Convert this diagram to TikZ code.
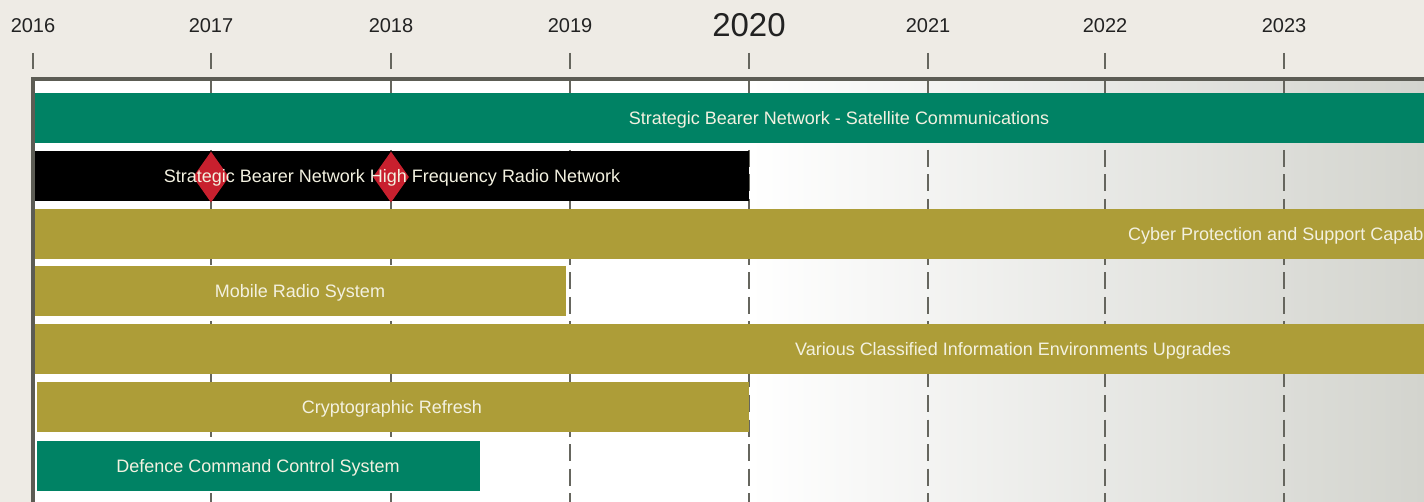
\documentclass[tikz,border=0pt]{standalone}
\usepackage{fontspec}
\setmainfont{Liberation Sans}
\usetikzlibrary{shapes.geometric}
\definecolor{bg}{HTML}{EEEBE5}
\definecolor{framec}{HTML}{5C5C54}
\definecolor{gridc}{HTML}{66665E}
\definecolor{shadeR}{HTML}{D3D4CE}
\definecolor{tealc}{HTML}{008264}
\definecolor{olivec}{HTML}{AD9D38}
\definecolor{redc}{HTML}{C8202E}
\definecolor{labelc}{HTML}{F3F1E0}
\definecolor{yearc}{HTML}{222222}
\tikzset{
  bar/.style={anchor=north west, minimum height=50pt, inner sep=0pt, outer sep=0pt, draw=none},
  barlabel/.style={anchor=base, text=labelc, inner sep=0pt, font=\fontsize{18}{20}\selectfont},
  yearlabel/.style={anchor=base, text=yearc, inner sep=0pt, font=\fontsize{20}{22}\selectfont},
  bigyear/.style={anchor=base, text=yearc, inner sep=0pt, font=\fontsize{33}{36}\selectfont},
  tick/.style={draw=gridc, line width=1.5pt},
  gridline/.style={draw=gridc, line width=1.5pt, dash pattern=on 17pt off 7.5pt, dash phase=4.5pt},
  milestone/.style={diamond, fill=redc, draw=none, inner sep=0pt, minimum width=36pt, minimum height=51pt}
}
\begin{document}
\begin{tikzpicture}[x=1pt,y=-1pt]
\clip (0,0) rectangle (1424,502);
\fill[bg] (0,0) rectangle (1424,502);
\fill[white] (35,81) rectangle (749,502);
\shade[left color=white, right color=shadeR] (749,81) rectangle (1424,502);
% frame
\fill[framec] (31,77) rectangle (1424,81);
\fill[framec] (31,77) rectangle (35,502);
% years
\foreach \yr/\xx in {2016/33,2017/211,2018/391,2019/570,2021/928,2022/1105,2023/1284}{
  \node[yearlabel] (y\yr) at (\xx,33) {\yr};
  \coordinate (t\yr a) at (\xx,53);
  \coordinate (t\yr b) at (\xx,69);
  \draw[tick] (t\yr a) -- (t\yr b);
}
\node[bigyear] (y2020) at (749,37) {2020};
\coordinate (t2020a) at (749,53);
\coordinate (t2020b) at (749,69);
\draw[tick] (t2020a) -- (t2020b);
% grid lines
\foreach \yr/\xx in {2017/211,2018/391,2019/570,2020/749,2021/928,2022/1105,2023/1284}{
  \coordinate (g\yr a) at (\xx,81);
  \coordinate (g\yr b) at (\xx,502);
  \draw[gridline] (g\yr a) -- (g\yr b);
}
% bars
\node[bar, fill=tealc, minimum width=1395pt] (b1) at (35,93) {};
\node[bar, fill=black, minimum width=714pt] (b2) at (35,151) {};
\node[bar, fill=olivec, minimum width=1395pt] (b3) at (35,209) {};
\node[bar, fill=olivec, minimum width=531pt] (b4) at (35,266) {};
\node[bar, fill=olivec, minimum width=1395pt] (b5) at (35,324) {};
\node[bar, fill=olivec, minimum width=712pt] (b6) at (37,382) {};
\node[bar, fill=tealc, minimum width=443pt] (b7) at (37,441) {};
% milestones
\node[milestone] (m1) at (211,177) {};
\node[milestone] (m2) at (391,177) {};
% labels
\node[barlabel] (l1) at (839,124.5) {Strategic Bearer Network - Satellite Communications};
\node[barlabel] (l2) at (392,182.5) {Strategic Bearer Network High Frequency Radio Network};
\node[barlabel, anchor=base west] (l3) at (1128,240.5) {Cyber Protection and Support Capability};
\node[barlabel] (l4) at (300,297.5) {Mobile Radio System};
\node[barlabel] (l5) at (1013,355.5) {Various Classified Information Environments Upgrades};
\node[barlabel] (l6) at (392,413.5) {Cryptographic Refresh};
\node[barlabel] (l7) at (258,472.5) {Defence Command Control System};
\end{tikzpicture}
\end{document}
